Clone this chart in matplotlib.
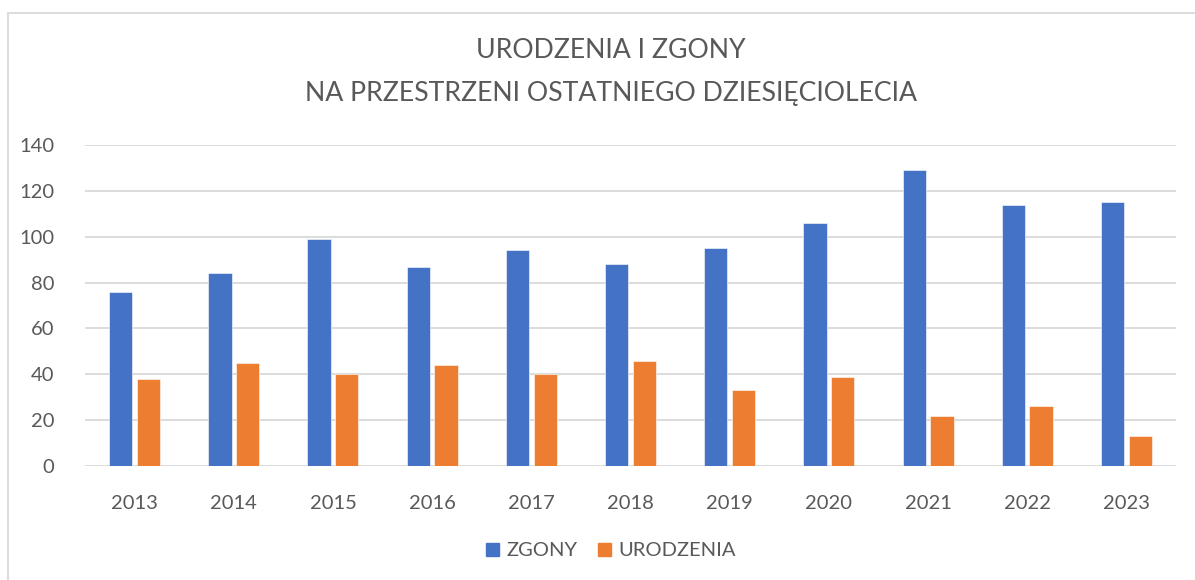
import numpy as np
import matplotlib.pyplot as plt
from matplotlib.patches import Rectangle, Patch

years = ['2013', '2014', '2015', '2016', '2017', '2018', '2019', '2020', '2021', '2022', '2023']
zgony = [76, 84, 99, 87, 94, 88, 95, 106, 129, 114, 115]
urodzenia = [38, 45, 40, 44, 40, 46, 33, 39, 22, 26, 13]

blue = '#4472C4'
orange = '#ED7D31'
txt = '#595959'

plt.rcParams['font.family'] = ['Lato', 'DejaVu Sans']

fig = plt.figure(figsize=(11.95, 5.8), dpi=100)
ax = fig.add_axes([85 / 1195, 1 - 466 / 580, (1176 - 85) / 1195, (466 - 145) / 580])

x = np.arange(len(years))
w = 0.235
ax.bar(x - 0.14, zgony, w, color=blue, edgecolor='white', linewidth=0.4, zorder=3)
ax.bar(x + 0.14, urodzenia, w, color=orange, edgecolor='white', linewidth=0.4, zorder=3)

ax.set_xlim(-0.5, len(years) - 0.5)
ax.set_ylim(0, 140)
ax.set_yticks(range(0, 141, 20))
ax.set_xticks(x)
ax.set_xticklabels(years)
ax.grid(axis='y', color='#D9D9D9', linewidth=1.3, zorder=0)
for s in ax.spines.values():
    s.set_visible(False)
ax.tick_params(length=0, labelsize=14.5, colors=txt)
ax.tick_params(axis='y', pad=22)
ax.tick_params(axis='x', pad=21)

# chart border (only top/left visible in the crop)
fig.patches.append(Rectangle((8 / 1195, -0.1), 1.2, 1 - 13 / 580 + 0.1, transform=fig.transFigure,
                             fill=False, edgecolor='#D9D9D9', linewidth=1.3))

fig.text(611 / 1195, 1 - 50 / 580, 'URODZENIA I ZGONY', ha='center', va='center', fontsize=19.2, color=txt)
fig.text(611 / 1195, 1 - 93 / 580, 'NA PRZESTRZENI OSTATNIEGO DZIESIĘCIOLECIA', ha='center', va='center',
         fontsize=19.2, color=txt)

handles = [Patch(color=blue, label='ZGONY'), Patch(color=orange, label='URODZENIA')]
fig.legend(handles=handles, loc='center', bbox_to_anchor=(611 / 1195, 1 - 551 / 580), ncol=2, frameon=False,
           fontsize=14.5, handlelength=0.65, handleheight=0.65, handletextpad=0.35, columnspacing=1.05,
           labelcolor=txt)

fig.savefig('out.png', dpi=100)
